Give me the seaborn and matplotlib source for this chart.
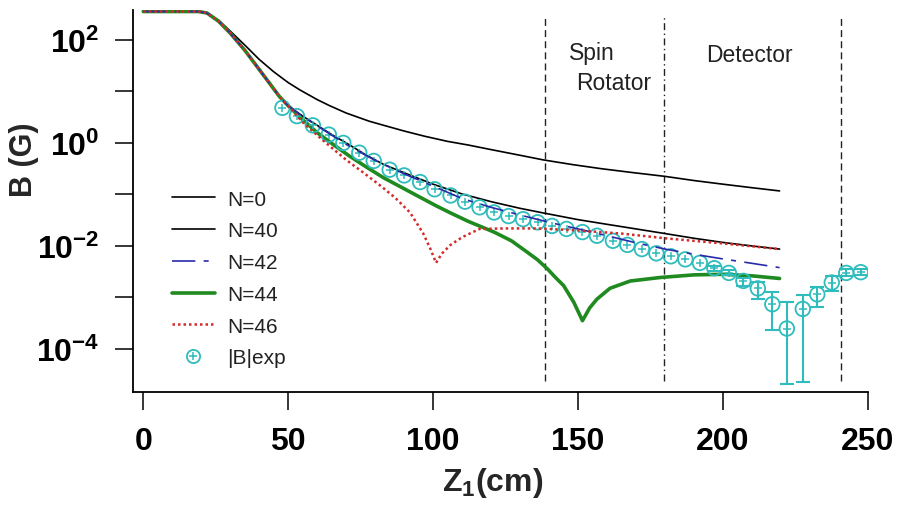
import numpy as np
import pandas as pd
import seaborn as sns
import matplotlib
matplotlib.use("Agg")
import matplotlib.pyplot as plt
from matplotlib.lines import Line2D
from matplotlib.legend_handler import HandlerTuple
from matplotlib.ticker import NullLocator, FixedLocator

# ---------------- data ----------------
# N=0 (no correction)
z_n0 = [0, 19, 22, 26, 30, 35, 40, 45, 50, 54, 60, 64, 70, 78, 83, 90, 97, 105,
        112, 120, 130, 138, 148, 158, 168, 180, 190, 200, 210, 219.5]
b_n0 = [355, 355, 331, 240, 148, 79.4, 41.7, 24.0, 14.8, 10.7, 6.92, 5.37, 3.80,
        2.63, 2.19, 1.70, 1.35, 1.07, 0.912, 0.741, 0.575, 0.468, 0.380, 0.316,
        0.269, 0.224, 0.186, 0.158, 0.135, 0.117]

# N=40
z_n40 = [0, 19, 22, 26, 30, 35, 39, 43, 47, 50, 55, 60, 65, 70, 77, 83, 90, 100,
         110, 120, 130, 138, 150, 160, 170, 180, 190, 200, 210, 219.5]
b_n40 = [355, 355, 331, 229, 135, 63.0, 31.6, 15.8, 7.9, 5.25, 3.31, 2.19, 1.45,
         1.0, 0.575, 0.380, 0.263, 0.158, 0.102, 0.0724, 0.0537, 0.0437, 0.0324,
         0.0263, 0.0214, 0.0174, 0.0141, 0.0117, 0.0100, 0.0087]

# N=42
z_n42 = [0, 19, 22, 26, 30, 35, 39, 43, 47, 50, 55, 60, 70, 80, 90, 100, 110, 120,
         130, 140, 150, 160, 170, 180, 190, 200, 210, 219.5]
b_n42 = [355, 355, 331, 229, 135, 63.0, 31.6, 15.8, 7.9, 5.25, 3.24, 2.14, 0.933,
         0.457, 0.251, 0.145, 0.0832, 0.0562, 0.0398, 0.0288, 0.0214, 0.0158,
         0.0115, 0.0087, 0.0069, 0.0056, 0.0046, 0.0038]

# N=44
z_n44 = [0, 19, 22, 26, 30, 35, 39, 43, 47, 50, 55, 60, 66, 71, 77, 83, 90, 95, 101,
         106, 112, 121, 127, 132, 136, 139.5, 142, 145, 148.5, 151.5, 154, 156.5,
         161, 168, 178.5, 190, 200, 210, 219.5]
b_n44 = [355, 355, 331, 229, 135, 63.0, 31.6, 15.8, 7.9, 5.25, 2.82, 1.58, 0.891,
         0.562, 0.339, 0.209, 0.129, 0.0912, 0.0603, 0.0437, 0.0302, 0.0186,
         0.0126, 0.0079, 0.0054, 0.00355, 0.00251, 0.0017, 0.00081, 0.000355,
         0.00063, 0.00093, 0.00151, 0.00209, 0.00245, 0.00275, 0.00282, 0.00263,
         0.00234]

# N=46
z_n46 = [0, 19, 22, 26, 30, 35, 39, 43, 47, 50, 55, 62, 70, 76, 82, 87, 92, 96.5,
         99, 101, 103, 106, 110, 116, 125, 136, 150, 165, 180, 200, 219.5]
b_n46 = [355, 355, 331, 229, 135, 63.0, 31.6, 15.8, 7.9, 5.25, 2.51, 1.12, 0.468,
         0.263, 0.145, 0.0851, 0.0447, 0.0178, 0.0089, 0.0047, 0.0071, 0.0105,
         0.0148, 0.0214, 0.0219, 0.0219, 0.0200, 0.0174, 0.0141, 0.0112, 0.0087]

# measured |B|
z_exp = [48, 53, 58.5, 64, 69, 74.5, 79.5, 85, 90, 95.5, 100.5, 106, 111, 116, 121,
         126, 131, 136, 141, 146, 151.5, 156.5, 162, 167, 172, 177, 182, 187, 192,
         197, 202, 207, 212, 217, 222, 227.5, 232.5, 237.5, 242.5, 247.5]
b_exp = [4.79, 3.31, 2.19, 1.45, 1.0, 0.646, 0.447, 0.302, 0.234, 0.174, 0.126,
         0.0955, 0.0724, 0.0562, 0.0447, 0.0380, 0.0331, 0.0288, 0.0245, 0.0214,
         0.0186, 0.0158, 0.0126, 0.0105, 0.0087, 0.0072, 0.0063, 0.0055, 0.0047,
         0.0037, 0.0030, 0.0021, 0.0015, 0.00074, 0.00025, 0.0006, 0.00115,
         0.00195, 0.0030, 0.0031]
# error bars (only where visible)
z_err = [197, 202, 207, 212, 217, 222, 227.5, 232.5, 237.5, 242.5, 247.5]
b_err_center = [0.0037, 0.0030, 0.0021, 0.0015, 0.00074, 0.00025, 0.0006,
                0.00115, 0.00195, 0.0030, 0.0031]
b_err_low = [0.0033, 0.0027, 0.0017, 0.00093, 0.00023, 0.000021, 0.000023,
             0.00065, 0.00135, 0.0026, 0.0027]
b_err_high = [0.0041, 0.0034, 0.0024, 0.0020, 0.00126, 0.00081, 0.00112,
              0.00158, 0.0026, 0.0035, 0.0036]

region_z = [138.7, 179.6, 240.7]
region_labels = ["Spin", "Rotator", "Detector"]
series_labels = ["N=0", "N=40", "N=42", "N=44", "N=46", "|B|exp"]
x_ticks = [0, 50, 100, 150, 200, 250]
y_ticks = [1e-4, 1e-3, 1e-2, 1e-1, 1e0, 1e1, 1e2]
y_ticklabels = [r"$\mathbf{10^{-4}}$", "", r"$\mathbf{10^{-2}}$", "",
                r"$\mathbf{10^{0}}$", "", r"$\mathbf{10^{2}}$"]

# ---------------- style ----------------
sns.set_theme(style="ticks")
plt.rcParams["font.family"] = ["Liberation Sans", "DejaVu Sans"]
plt.rcParams.update({
    "mathtext.fontset": "custom",
    "mathtext.rm": "Liberation Sans:bold",
    "mathtext.bf": "Liberation Sans:bold",
    "mathtext.it": "Liberation Sans:bold",
    "mathtext.sf": "Liberation Sans:bold",
})

CYAN = "#2fbcbc"
GREEN = "#1f8a1f"
RED = "#d42a2a"
BLUE = "#2a2aa8"

fig = plt.figure(figsize=(8.97, 5.06), dpi=100)
ax = fig.add_axes([0.1479, 0.2227, 0.8201, 0.7556])
ax.set_yscale("log")

# region separators
sep_styles = [(0, (5, 3)), (0, (5, 2.5, 1, 2.5)), (0, (5, 3))]
for zz, ls in zip(region_z, sep_styles):
    ax.axvline(zz, ymin=0.03, ymax=0.982, color="#222222", lw=1.0, ls=ls, zorder=1)

# experiment
ax.errorbar(z_err, b_err_center,
            yerr=[np.array(b_err_center) - np.array(b_err_low),
                  np.array(b_err_high) - np.array(b_err_center)],
            fmt="none", ecolor=CYAN, elinewidth=1.5, capsize=5, capthick=1.5, zorder=3)
sns.scatterplot(x=z_exp, y=b_exp, ax=ax, marker="o", s=110, facecolor="none",
                edgecolor=CYAN, linewidth=1.3, zorder=3, legend=False)
sns.scatterplot(x=z_exp, y=b_exp, ax=ax, marker="+", s=40, color=CYAN,
                linewidth=1.1, zorder=3, legend=False)

line_specs = [
    (z_n0, b_n0, dict(color="black", lw=1.2, ls="-", zorder=2)),
    (z_n40, b_n40, dict(color="black", lw=1.2, ls="-", zorder=2)),
    (z_n42, b_n42, dict(color=BLUE, lw=1.2, ls=(0, (14, 5, 3, 5)), zorder=4)),
    (z_n44, b_n44, dict(color=GREEN, lw=2.6, ls="-", zorder=2)),
    (z_n46, b_n46, dict(color=RED, lw=1.8, ls=(0, (1, 1.2)), zorder=4)),
]
for zx, by, kw in line_specs:
    df = pd.DataFrame({"z": zx, "B": by})
    sns.lineplot(data=df, x="z", y="B", ax=ax, sort=False, estimator=None,
                 legend=False, **kw)

# region labels
ax.text(154.6, 42.7, region_labels[0], ha="center", va="baseline", fontsize=16.5, color="#222222")
ax.text(162.1, 11.2, region_labels[1], ha="center", va="baseline", fontsize=16.5, color="#222222")
ax.text(209.2, 39.7, region_labels[2], ha="center", va="baseline", fontsize=16.5, color="#222222")

# axes
ax.set_xlim(-3.66, 250.1)
ax.set_ylim(1.445e-5, 380)
ax.xaxis.set_major_locator(FixedLocator(x_ticks))
ax.set_xticklabels([str(t) for t in x_ticks])
ax.yaxis.set_major_locator(FixedLocator(y_ticks))
ax.yaxis.set_minor_locator(NullLocator())
ax.set_yticklabels(y_ticklabels)
ax.xaxis.set_minor_locator(NullLocator())
for s in ["top", "right"]:
    ax.spines[s].set_visible(False)
for s in ["left", "bottom"]:
    ax.spines[s].set_color("black")
    ax.spines[s].set_linewidth(1.3)
ax.tick_params(axis="both", which="major", direction="out", length=13, width=1.1,
               color="black", labelcolor="black")
ax.tick_params(axis="x", pad=11)
ax.tick_params(axis="y", pad=11)
for lab in ax.get_xticklabels():
    lab.set_fontsize(23)
    lab.set_fontweight("bold")
for lab in ax.get_yticklabels():
    lab.set_fontsize(23)

ax.set_xlabel(r"Z$_\mathbf{1}$(cm)", fontsize=23, fontweight="bold")
ax.xaxis.set_label_coords(0.489, -0.19)
ax.set_ylabel("B (G)", fontsize=22, fontweight="bold", va="center")
ax.yaxis.set_label_coords(-0.148, 0.61)

# legend
handles = [
    Line2D([], [], color="black", lw=1.2),
    Line2D([], [], color="black", lw=1.2),
    Line2D([], [], color=BLUE, lw=1.2, ls=(0, (14, 5, 3, 5))),
    Line2D([], [], color=GREEN, lw=2.6),
    Line2D([], [], color=RED, lw=1.8, ls=(0, (1, 1.2))),
    (Line2D([], [], marker="o", ls="none", mfc="none", mec=CYAN, ms=9.5, mew=1.3),
     Line2D([], [], marker="+", ls="none", color=CYAN, ms=6, mew=1.1)),
]
leg = ax.legend(handles, series_labels, loc="upper left",
                bbox_to_anchor=(0.053, 0.530), frameon=False, fontsize=15,
                handlelength=2.07, handletextpad=0.59, labelspacing=0.61,
                borderpad=0, borderaxespad=0,
                handler_map={tuple: HandlerTuple(ndivide=1)})
for t in leg.get_texts():
    t.set_color("#222222")

fig.savefig("out.png", dpi=100)
